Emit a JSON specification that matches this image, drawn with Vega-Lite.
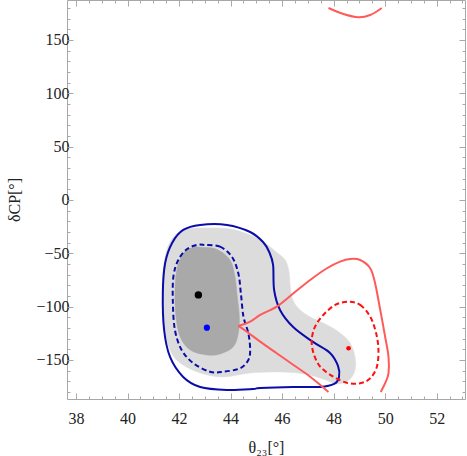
{
  "$schema": "https://vega.github.io/schema/vega-lite/v6.json",
  "width": 398,
  "height": 399,
  "autosize": "none",
  "padding": {"left": 67, "top": 0, "right": 2, "bottom": 57},
  "config": {
    "view": {"stroke": "#a8a8a8", "strokeWidth": 1},
    "axis": {"labelFont": "Liberation Serif", "titleFont": "Liberation Serif", "labelFontSize": 16, "titleFontSize": 16, "titleFontWeight": "normal", "labelColor": "#222222", "titleColor": "#222222", "tickColor": "#a8a8a8", "domain": false, "grid": false}
  },
  "datasets": {
    "light": [
      {"t": 42.16, "d": -28.1, "i": 0}, {"t": 43.05, "d": -26.25, "i": 1}, {"t": 43.98, "d": -27.2, "i": 2}, {"t": 44.76, "d": -32.8, "i": 3},
      {"t": 45.34, "d": -40.3, "i": 4}, {"t": 45.77, "d": -48.75, "i": 5}, {"t": 46.12, "d": -56.25, "i": 6}, {"t": 46.27, "d": -67.5, "i": 7},
      {"t": 46.31, "d": -79.7, "i": 8}, {"t": 46.39, "d": -91.9, "i": 9}, {"t": 46.62, "d": -101.25, "i": 10}, {"t": 47.09, "d": -109.7, "i": 11},
      {"t": 47.75, "d": -117.2, "i": 12}, {"t": 48.25, "d": -124.7, "i": 13}, {"t": 48.64, "d": -134.1, "i": 14}, {"t": 48.83, "d": -147.2, "i": 15},
      {"t": 48.83, "d": -159.4, "i": 16}, {"t": 48.6, "d": -168.75, "i": 17}, {"t": 48.14, "d": -172.5, "i": 18}, {"t": 47.59, "d": -167.8, "i": 19},
      {"t": 46.89, "d": -163.1, "i": 20}, {"t": 45.92, "d": -161.25, "i": 21}, {"t": 44.76, "d": -162.2, "i": 22}, {"t": 43.71, "d": -165.9, "i": 23},
      {"t": 42.82, "d": -162.2, "i": 24}, {"t": 42.04, "d": -152.8, "i": 25}, {"t": 41.65, "d": -140.6, "i": 26}, {"t": 41.42, "d": -119.1, "i": 27},
      {"t": 41.34, "d": -87.2, "i": 28}, {"t": 41.42, "d": -59.1, "i": 29}, {"t": 41.65, "d": -39.4, "i": 30}
    ],
    "dark": [
      {"t": 42.82, "d": -44.3, "i": 0}, {"t": 43.46, "d": -46.2, "i": 1}, {"t": 43.98, "d": -56.25, "i": 2}, {"t": 44.17, "d": -71.9, "i": 3},
      {"t": 44.26, "d": -90.7, "i": 4}, {"t": 44.34, "d": -109.4, "i": 5}, {"t": 44.3, "d": -125, "i": 6}, {"t": 44.11, "d": -137.5, "i": 7},
      {"t": 43.59, "d": -144.4, "i": 8}, {"t": 43.08, "d": -145.3, "i": 9}, {"t": 42.43, "d": -140.6, "i": 10}, {"t": 42.04, "d": -128.2, "i": 11},
      {"t": 41.88, "d": -109.4, "i": 12}, {"t": 41.84, "d": -87.5, "i": 13}, {"t": 41.91, "d": -65.6, "i": 14}, {"t": 42.17, "d": -50, "i": 15},
      {"t": 42.56, "d": -44.3, "i": 16}
    ],
    "blueSolid": [
      {"t": 42.82, "d": -23.4, "i": 0}, {"t": 43.86, "d": -23.4, "i": 1}, {"t": 44.76, "d": -30, "i": 2}, {"t": 45.26, "d": -39.4, "i": 3},
      {"t": 45.5, "d": -48.75, "i": 4}, {"t": 45.65, "d": -60.9, "i": 5}, {"t": 45.69, "d": -84.4, "i": 6}, {"t": 45.92, "d": -103.1, "i": 7},
      {"t": 46.43, "d": -119.1, "i": 8}, {"t": 47.2, "d": -133.1, "i": 9}, {"t": 47.86, "d": -143.4, "i": 10}, {"t": 48.17, "d": -155.6, "i": 11},
      {"t": 48.21, "d": -165.9, "i": 12}, {"t": 48.02, "d": -172.5, "i": 13}, {"t": 47.48, "d": -175.3, "i": 14}, {"t": 46.43, "d": -175.3, "i": 15},
      {"t": 45.15, "d": -176.25, "i": 16}, {"t": 44.87, "d": -177.2, "i": 17}, {"t": 43.86, "d": -178.1, "i": 18}, {"t": 42.82, "d": -175.3, "i": 19},
      {"t": 42.16, "d": -165.9, "i": 20}, {"t": 41.65, "d": -147.2, "i": 21}, {"t": 41.42, "d": -121.9, "i": 22}, {"t": 41.37, "d": -87.2, "i": 23},
      {"t": 41.46, "d": -59.1, "i": 24}, {"t": 41.73, "d": -40.3, "i": 25}, {"t": 42.16, "d": -28.1, "i": 26}
    ],
    "blueDashed": [
      {"t": 43.01, "d": -42.2, "i": 0}, {"t": 43.59, "d": -43.8, "i": 1}, {"t": 44.05, "d": -53.2, "i": 2}, {"t": 44.3, "d": -68.7, "i": 3},
      {"t": 44.4, "d": -87.5, "i": 4}, {"t": 44.5, "d": -109.4, "i": 5}, {"t": 44.69, "d": -125, "i": 6}, {"t": 44.76, "d": -140.6, "i": 7},
      {"t": 44.69, "d": -150, "i": 8}, {"t": 44.37, "d": -157.8, "i": 9}, {"t": 43.72, "d": -161, "i": 10}, {"t": 43.2, "d": -161, "i": 11},
      {"t": 42.56, "d": -153.1, "i": 12}, {"t": 42.1, "d": -140.6, "i": 13}, {"t": 41.84, "d": -121.9, "i": 14}, {"t": 41.76, "d": -96.9, "i": 15},
      {"t": 41.78, "d": -71.9, "i": 16}, {"t": 41.97, "d": -56.25, "i": 17}, {"t": 42.3, "d": -46.2, "i": 18}, {"t": 42.69, "d": -42.2, "i": 19}
    ],
    "redSolid": [
      {"t": 47.8, "d": -180, "i": 0, "seg": "a"}, {"t": 47.09, "d": -165.7, "i": 1, "seg": "a"}, {"t": 46.44, "d": -154.7, "i": 2, "seg": "a"}, {"t": 45.79, "d": -143.7, "i": 3, "seg": "a"},
      {"t": 45.15, "d": -132.8, "i": 4, "seg": "a"}, {"t": 44.63, "d": -123.5, "i": 5, "seg": "a"}, {"t": 44.3, "d": -118.1, "i": 6, "seg": "a"},
      {"t": 44.3, "d": -118.1, "i": 6, "seg": "b"}, {"t": 44.76, "d": -114.1, "i": 7, "seg": "b"},
      {"t": 45.15, "d": -107.8, "i": 8, "seg": "b"}, {"t": 45.79, "d": -100, "i": 9, "seg": "b"}, {"t": 46.44, "d": -87.5, "i": 10, "seg": "b"}, {"t": 47.09, "d": -75, "i": 11, "seg": "b"},
      {"t": 47.74, "d": -64, "i": 12, "seg": "b"}, {"t": 48.25, "d": -57.8, "i": 13, "seg": "b"}, {"t": 48.64, "d": -55.3, "i": 14, "seg": "b"}, {"t": 49.03, "d": -56.25, "i": 15, "seg": "b"},
      {"t": 49.42, "d": -64, "i": 16, "seg": "b"}, {"t": 49.61, "d": -78.1, "i": 17, "seg": "b"}, {"t": 49.81, "d": -103.1, "i": 18, "seg": "b"}, {"t": 50.0, "d": -128.2, "i": 19, "seg": "b"},
      {"t": 50.13, "d": -146.9, "i": 20, "seg": "b"}, {"t": 50.13, "d": -162.5, "i": 21, "seg": "b"}, {"t": 50.0, "d": -171.8, "i": 22, "seg": "b"}, {"t": 49.83, "d": -180, "i": 23, "seg": "b"}
    ],
    "redTop": [
      {"t": 47.8, "d": 180, "i": 0}, {"t": 48.38, "d": 174.4, "i": 1}, {"t": 48.96, "d": 171.3, "i": 2}, {"t": 49.42, "d": 173.4, "i": 3}, {"t": 49.87, "d": 180, "i": 4}
    ],
    "redDashed": [
      {"t": 48.58, "d": -95.3, "i": 0}, {"t": 49.03, "d": -98.4, "i": 1}, {"t": 49.42, "d": -109.4, "i": 2}, {"t": 49.65, "d": -125, "i": 3},
      {"t": 49.74, "d": -140.6, "i": 4}, {"t": 49.68, "d": -156.3, "i": 5}, {"t": 49.42, "d": -167.2, "i": 6}, {"t": 49.03, "d": -171.8, "i": 7},
      {"t": 48.51, "d": -171.3, "i": 8}, {"t": 47.99, "d": -165.7, "i": 9}, {"t": 47.48, "d": -156.3, "i": 10}, {"t": 47.22, "d": -143.7, "i": 11},
      {"t": 47.15, "d": -131.25, "i": 12}, {"t": 47.28, "d": -118.75, "i": 13}, {"t": 47.6, "d": -107.8, "i": 14}, {"t": 48.06, "d": -98.4, "i": 15}
    ],
    "points": [
      {"t": 42.75, "d": -89, "kind": "best"},
      {"t": 43.08, "d": -119.7, "kind": "blue"},
      {"t": 48.58, "d": -139, "kind": "red"}
    ]
  },
  "resolve": {"axis": {"x": "independent", "y": "independent"}},
  "layer": [
    {
      "data": {"name": "light"},
      "mark": {"type": "line", "interpolate": "cardinal-closed", "fill": "#dcdcdc", "stroke": "#dcdcdc", "strokeWidth": 0.5},
      "encoding": {
        "x": {"field": "t", "type": "quantitative", "scale": {"domain": [37.65, 53.1], "nice": false, "zero": false},
          "axis": {"orient": "bottom", "values": [38, 40, 42, 44, 46, 48, 50, 52], "tickSize": -6, "labelPadding": 17, "title": "θ₂₃[°]", "titlePadding": 13, "format": "d", "labelFlush": false}},
        "y": {"field": "d", "type": "quantitative", "scale": {"domain": [-186.6, 187.5], "nice": false, "zero": false},
          "axis": {"orient": "left", "values": [-150, -100, -50, 0, 50, 100, 150], "tickSize": -6, "labelPadding": 4, "title": "δCP[°]", "titlePadding": 13, "format": "d", "labelFlush": false}},
        "order": {"field": "i", "type": "quantitative"}
      }
    },
    {
      "data": {"name": "dark"},
      "mark": {"type": "line", "interpolate": "cardinal-closed", "fill": "#a9a9a9", "stroke": "#a9a9a9", "strokeWidth": 0.5},
      "encoding": {
        "x": {"field": "t", "type": "quantitative", "axis": {"orient": "bottom", "values": [38, 38.5, 39, 39.5, 40, 40.5, 41, 41.5, 42, 42.5, 43, 43.5, 44, 44.5, 45, 45.5, 46, 46.5, 47, 47.5, 48, 48.5, 49, 49.5, 50, 50.5, 51, 51.5, 52, 52.5, 53], "tickSize": -3, "labels": false, "title": null}},
        "y": {"field": "d", "type": "quantitative", "axis": {"orient": "left", "values": [-180, -170, -160, -150, -140, -130, -120, -110, -100, -90, -80, -70, -60, -50, -40, -30, -20, -10, 0, 10, 20, 30, 40, 50, 60, 70, 80, 90, 100, 110, 120, 130, 140, 150, 160, 170, 180], "tickSize": -3, "labels": false, "title": null}},
        "order": {"field": "i", "type": "quantitative"}
      }
    },
    {
      "data": {"name": "blueSolid"},
      "mark": {"type": "line", "interpolate": "cardinal-closed", "color": "#0c0ca8", "strokeWidth": 2},
      "encoding": {
        "x": {"field": "t", "type": "quantitative", "axis": {"orient": "top", "values": [38, 40, 42, 44, 46, 48, 50, 52], "tickSize": -6, "labels": false, "title": null}},
        "y": {"field": "d", "type": "quantitative", "axis": {"orient": "right", "values": [-150, -100, -50, 0, 50, 100, 150], "tickSize": -6, "labels": false, "title": null}},
        "order": {"field": "i", "type": "quantitative"}
      }
    },
    {
      "data": {"name": "blueDashed"},
      "mark": {"type": "line", "interpolate": "cardinal-closed", "color": "#0c0ca8", "strokeWidth": 2, "strokeDash": [5, 3]},
      "encoding": {
        "x": {"field": "t", "type": "quantitative", "axis": {"orient": "top", "values": [38, 38.5, 39, 39.5, 40, 40.5, 41, 41.5, 42, 42.5, 43, 43.5, 44, 44.5, 45, 45.5, 46, 46.5, 47, 47.5, 48, 48.5, 49, 49.5, 50, 50.5, 51, 51.5, 52, 52.5, 53], "tickSize": -3, "labels": false, "title": null}},
        "y": {"field": "d", "type": "quantitative", "axis": {"orient": "right", "values": [-180, -170, -160, -150, -140, -130, -120, -110, -100, -90, -80, -70, -60, -50, -40, -30, -20, -10, 0, 10, 20, 30, 40, 50, 60, 70, 80, 90, 100, 110, 120, 130, 140, 150, 160, 170, 180], "tickSize": -3, "labels": false, "title": null}},
        "order": {"field": "i", "type": "quantitative"}
      }
    },
    {
      "data": {"name": "redSolid"},
      "mark": {"type": "line", "interpolate": "cardinal", "color": "#ff5a5a", "strokeWidth": 2},
      "encoding": {
        "x": {"field": "t", "type": "quantitative", "axis": null},
        "y": {"field": "d", "type": "quantitative", "axis": null},
        "detail": {"field": "seg", "type": "nominal"},
        "order": {"field": "i", "type": "quantitative"}
      }
    },
    {
      "data": {"name": "redTop"},
      "mark": {"type": "line", "interpolate": "cardinal", "color": "#ff5a5a", "strokeWidth": 2},
      "encoding": {
        "x": {"field": "t", "type": "quantitative", "axis": null},
        "y": {"field": "d", "type": "quantitative", "axis": null},
        "order": {"field": "i", "type": "quantitative"}
      }
    },
    {
      "data": {"name": "redDashed"},
      "mark": {"type": "line", "interpolate": "cardinal-closed", "color": "#ff1010", "strokeWidth": 2, "strokeDash": [5, 3]},
      "encoding": {
        "x": {"field": "t", "type": "quantitative", "axis": null},
        "y": {"field": "d", "type": "quantitative", "axis": null},
        "order": {"field": "i", "type": "quantitative"}
      }
    },
    {
      "data": {"name": "points"},
      "mark": {"type": "circle", "opacity": 1},
      "encoding": {
        "x": {"field": "t", "type": "quantitative", "axis": null},
        "y": {"field": "d", "type": "quantitative", "axis": null},
        "color": {"field": "kind", "type": "nominal", "scale": {"domain": ["best", "blue", "red"], "range": ["#000000", "#0000ff", "#ff0000"]}, "legend": null},
        "size": {"field": "kind", "type": "nominal", "scale": {"domain": ["best", "blue", "red"], "range": [55, 22, 22]}, "legend": null}
      }
    }
  ]
}
